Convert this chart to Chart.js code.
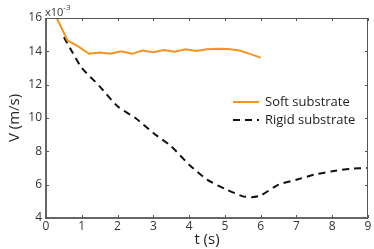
<!DOCTYPE html>
<html>
<head>
<meta charset="utf-8">
<script src="https://cdn.jsdelivr.net/npm/chart.js@4"></script>
<style>
  html, body { margin: 0; padding: 0; background: #fff; }
  #wrap { width: 374px; height: 249px; }
</style>
</head>
<body>
<div id="wrap"><canvas id="chart" width="374" height="249"></canvas></div>
<script>
// soft substrate (orange)
const softT = [0.3, 0.6, 0.9, 1.2, 1.5, 1.8, 2.1, 2.4, 2.7, 3.0, 3.3, 3.6, 3.9, 4.2, 4.5, 4.8, 5.1, 5.4, 5.7, 6.0];
const softV = [16.0, 14.65, 14.3, 13.85, 13.93, 13.85, 14.0, 13.85, 14.05, 13.95, 14.08, 13.97, 14.12, 14.02, 14.12, 14.15, 14.14, 14.05, 13.85, 13.62];

// rigid substrate (black dashed)
const rigidT = [0.5, 0.75, 1.0, 1.5, 2.0, 2.5, 3.0, 3.5, 4.0, 4.5, 5.0, 5.5, 5.75, 6.0, 6.5, 7.0, 7.5, 8.0, 8.5, 9.0];
const rigidV = [14.85, 13.9, 13.0, 11.9, 10.7, 10.0, 9.1, 8.3, 7.2, 6.3, 5.75, 5.3, 5.25, 5.35, 6.0, 6.3, 6.6, 6.8, 6.95, 7.0];

const seriesNames = ['Soft substrate', 'Rigid substrate'];
const xTicks = [0, 1, 2, 3, 4, 5, 6, 7, 8, 9];
const yTicks = [4, 6, 8, 10, 12, 14, 16];

const FONT = "'Open Sans', sans-serif";
const pts = (t, v) => t.map((x, i) => ({ x: x, y: v[i] }));

// MATLAB-ish frame: box, inward ticks, exponent label, legend
const framePlugin = {
  id: 'frame',
  afterDraw(chart) {
    const { ctx, chartArea: a, scales: { x, y } } = chart;
    ctx.save();
    ctx.strokeStyle = '#555';
    ctx.lineWidth = 1;
    ctx.beginPath();
    ctx.moveTo(a.left, a.top + 0.5); ctx.lineTo(a.right, a.top + 0.5);
    ctx.moveTo(a.right - 0.5, a.top); ctx.lineTo(a.right - 0.5, a.bottom);
    ctx.stroke();
    ctx.strokeStyle = '#666';
    ctx.lineWidth = 2;
    ctx.beginPath();
    ctx.moveTo(a.left, a.top); ctx.lineTo(a.left, a.bottom);
    ctx.lineTo(a.right, a.bottom);
    ctx.stroke();

    ctx.lineWidth = 1;
    ctx.strokeStyle = '#555';
    ctx.beginPath();
    xTicks.forEach(t => {
      const px = Math.round(x.getPixelForValue(t)) + 0.5;
      ctx.moveTo(px, a.bottom); ctx.lineTo(px, a.bottom - 3);
      ctx.moveTo(px, a.top); ctx.lineTo(px, a.top + 3);
    });
    yTicks.forEach(t => {
      const py = Math.round(y.getPixelForValue(t)) + 0.5;
      ctx.moveTo(a.left, py); ctx.lineTo(a.left + 3, py);
      ctx.moveTo(a.right, py); ctx.lineTo(a.right - 3, py);
    });
    ctx.stroke();

    // exponent
    ctx.fillStyle = '#333';
    ctx.textBaseline = 'alphabetic';
    ctx.font = '11px ' + FONT;
    ctx.fillText('x10', a.left - 1, a.top - 2);
    const w = ctx.measureText('x10').width;
    ctx.font = '8px ' + FONT;
    ctx.fillText('-3', a.left - 1 + w, a.top - 8);

    // legend
    const ds = chart.data.datasets;
    ctx.font = '13px ' + FONT;
    ctx.textBaseline = 'middle';
    ds.forEach((d, i) => {
      const ly = 102 + i * 18;
      ctx.strokeStyle = d.borderColor;
      ctx.lineWidth = 2;
      ctx.setLineDash(d.borderDash || []);
      ctx.beginPath();
      ctx.moveTo(233, ly); ctx.lineTo(259, ly);
      ctx.stroke();
      ctx.setLineDash([]);
      ctx.fillStyle = '#222';
      ctx.fillText(d.label, 265, ly);
    });
    ctx.restore();
  }
};

new Chart(document.getElementById('chart'), {
  type: 'line',
  data: {
    datasets: [
      {
        label: seriesNames[0],
        data: pts(softT, softV),
        borderColor: '#F7941D',
        borderWidth: 2,
        pointRadius: 0,
        tension: 0,
        fill: false
      },
      {
        label: seriesNames[1],
        data: pts(rigidT, rigidV),
        borderColor: '#111',
        borderWidth: 2,
        borderDash: [7, 5],
        pointRadius: 0,
        tension: 0.2,
        fill: false
      }
    ]
  },
  options: {
    responsive: false,
    animation: false,
    layout: { padding: { left: 0, top: 18, right: 6, bottom: 0 } },
    plugins: { legend: { display: false }, tooltip: { enabled: false } },
    scales: {
      x: {
        type: 'linear',
        min: 0, max: 9,
        afterBuildTicks: s => { s.ticks = xTicks.map(v => ({ value: v })); },
        afterFit: s => { s.height = 31; },
        grid: { display: false, drawTicks: false },
        border: { display: false },
        ticks: { padding: 1, color: '#333', font: { family: FONT, size: 12 }, maxRotation: 0 },
        title: { display: true, text: 't (s)', color: '#222', font: { family: FONT, size: 15 }, padding: { top: 0, bottom: 0 } }
      },
      y: {
        min: 4, max: 16,
        afterBuildTicks: s => { s.ticks = yTicks.map(v => ({ value: v })); },
        afterFit: s => { s.width = 46; },
        grid: { display: false, drawTicks: false },
        border: { display: false },
        ticks: { padding: 4, color: '#333', font: { family: FONT, size: 12 } },
        title: { display: true, text: 'V (m/s)', color: '#222', font: { family: FONT, size: 15 }, padding: { top: 6, bottom: 0 } }
      }
    }
  },
  plugins: [framePlugin]
});
</script>
</body>
</html>
